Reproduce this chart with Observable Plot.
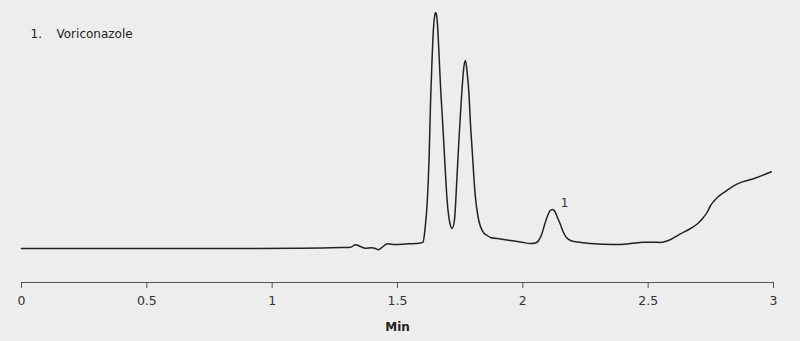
<!DOCTYPE html>
<html>
<head>
<meta charset="utf-8">
<script src="https://cdn.jsdelivr.net/npm/d3@7"></script>
<script src="https://cdn.jsdelivr.net/npm/@observablehq/plot@0.6"></script>
<style>
  html, body { margin: 0; padding: 0; background: #ededed; }
  #chart svg { display: block; }
</style>
</head>
<body>
<div id="chart"></div>
<script>
// Retention time (min) and detector signal (arbitrary units)
const time = [
  0, 0.315, 0.714, 1.113, 1.201, 1.273, 1.313, 1.332, 1.352, 1.372, 1.396, 1.412, 1.424, 1.440,
  1.460, 1.492, 1.532, 1.572, 1.592, 1.602, 1.610, 1.619, 1.626, 1.632, 1.638, 1.644, 1.648,
  1.652, 1.656, 1.660, 1.665, 1.672, 1.679, 1.688, 1.698, 1.707, 1.718, 1.727, 1.738, 1.745,
  1.752, 1.760, 1.765, 1.771, 1.777, 1.785, 1.791, 1.798, 1.805, 1.811, 1.821, 1.831, 1.843,
  1.858, 1.871, 1.911, 1.951, 1.991, 2.031, 2.051, 2.063, 2.075, 2.087, 2.099, 2.108, 2.118,
  2.128, 2.138, 2.150, 2.162, 2.174, 2.190, 2.218, 2.270, 2.362, 2.430, 2.481, 2.517, 2.549,
  2.581, 2.629, 2.669, 2.697, 2.721, 2.737, 2.749, 2.761, 2.777, 2.796, 2.817, 2.856, 2.920, 2.991
];
const signal = [
  0, 0, 0, 0.3, 0.6, 1, 1.3, 3.7, 2, 0.3, 0.8, 0, -1.3, 1.5,
  4.7, 4, 4.5, 5, 5.5, 6.5, 20, 48, 90, 148, 190, 222, 232,
  236, 233, 222, 198, 160, 131, 90, 48, 28, 20, 28, 75, 108,
  138, 168, 182, 188, 178, 155, 125, 98, 70, 51, 32, 22, 16,
  13, 11, 9.5, 8, 6.5, 5, 5.5, 8, 14, 24, 33, 37.5, 39,
  37, 31, 24, 16, 11, 8, 6.5, 5, 4, 5, 6.3, 6.3, 6,
  8, 14.7, 20, 24.7, 31.3, 37, 43, 47, 51.3, 55, 58.7, 64.7, 69.7, 76.7
];
const xTicks = [0, 0.5, 1, 1.5, 2, 2.5, 3];
const peakNames = ["1"];
const peakTimes = [2.166];
const peakSignals = [45];
const legendNumbers = ["1."];
const legendNames = ["Voriconazole"];
const xLabel = "Min";

const trace = time.map((t, i) => ({t, s: signal[i]}));
const peaks = peakNames.map((n, i) => ({name: n, t: peakTimes[i], s: peakSignals[i]}));

const chart = Plot.plot({
  width: 800,
  height: 341,
  marginLeft: 21,
  marginRight: 27,
  marginTop: 8,
  marginBottom: 59,
  style: {background: "#ededed", fontFamily: "'DejaVu Sans', sans-serif", color: "#333"},
  x: {domain: [0, 3]},
  y: {domain: [-34, 240], axis: null},
  marks: [
    Plot.ruleY([-34], {stroke: "#555", strokeWidth: 1}),
    Plot.axisX({ticks: xTicks, tickSize: 6, tickPadding: 8, tickFormat: d => String(d), fontSize: 12.5, label: null, stroke: "#555", fill: "#333"}),
    Plot.line(trace, {x: "t", y: "s", curve: "monotone-x", stroke: "#222", strokeWidth: 1.5}),
    Plot.text(peaks, {x: "t", y: "s", text: "name", fontSize: 12, fill: "#333"}),
    Plot.text([xLabel], {frameAnchor: "bottom", dy: 48, fontWeight: "bold", fontSize: 12, fill: "#222"}),
    Plot.text(legendNumbers, {frameAnchor: "top-left", dx: 9, dy: 21, textAnchor: "start", fontSize: 12, fill: "#222"}),
    Plot.text(legendNames, {frameAnchor: "top-left", dx: 35, dy: 21, textAnchor: "start", fontSize: 12, fill: "#222"})
  ]
});
document.getElementById("chart").appendChild(chart);
</script>
</body>
</html>
